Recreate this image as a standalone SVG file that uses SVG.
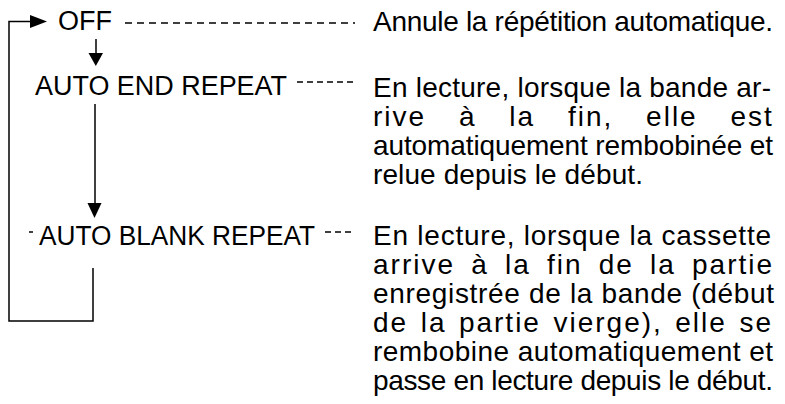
<svg xmlns="http://www.w3.org/2000/svg" width="785" height="404" viewBox="0 0 785 404">
<style>
text{font-family:"Liberation Sans",Arial,sans-serif;fill:#000}
.lbl{font-size:27px}
.d{font-size:28px}
.ln{fill:none;stroke:#000;stroke-width:1.5}
.dash{fill:none;stroke:#000;stroke-width:1.3;stroke-dasharray:7 5}
.ah{fill:#000}
</style>
<rect width="785" height="404" fill="#fff"/>
<g id="connectors">
<polyline class="ln" points="93,268 93,321 9,321 9,21.5 31,21.5"/>
<polygon class="ah" points="30,15 47,21.5 30,28"/>
<line class="ln" x1="96" y1="39" x2="96" y2="54"/>
<polygon class="ah" points="88.5,53 103,53 95.8,66"/>
<line class="ln" x1="95" y1="104" x2="95" y2="204"/>
<polygon class="ah" points="87.5,203 101.5,203 94.5,218"/>
<line class="ln" x1="29" y1="232" x2="33" y2="232"/>
<line class="dash" x1="125" y1="23" x2="355" y2="23"/>
<line class="dash" x1="297" y1="82" x2="355" y2="82" style="stroke-dasharray:6 4"/>
<line class="dash" x1="325" y1="232" x2="355" y2="232" style="stroke-dasharray:6 4"/>
</g>
<g id="node-off">
<text class="lbl" x="58" y="30">OFF</text>
<text class="d" x="373" y="31" textLength="400" lengthAdjust="spacing">Annule la répétition automatique.</text>
</g>
<g id="node-auto-end">
<text class="lbl" x="35" y="95" textLength="252" lengthAdjust="spacingAndGlyphs">AUTO END REPEAT</text>
<text class="d" x="373" y="97" textLength="398" lengthAdjust="spacing">En lecture, lorsque la bande ar-</text>
<text class="d" y="126" letter-spacing="2"><tspan x="373">rive</tspan><tspan x="458.9">à</tspan><tspan x="509.3">la</tspan><tspan x="567.9">fin,</tspan><tspan x="646.1">elle</tspan><tspan x="730.5">est</tspan></text>
<text class="d" x="373" y="155" textLength="400" lengthAdjust="spacing">automatiquement rembobinée et</text>
<text class="d" x="373" y="184" textLength="270" lengthAdjust="spacing">relue depuis le début.</text>
</g>
<g id="node-auto-blank">
<text class="lbl" x="39" y="245" textLength="276" lengthAdjust="spacingAndGlyphs">AUTO BLANK REPEAT</text>
<text class="d" x="373" y="245" textLength="398" lengthAdjust="spacing">En lecture, lorsque la cassette</text>
<text class="d" y="274" letter-spacing="2"><tspan x="373">arrive</tspan><tspan x="471.2">à</tspan><tspan x="505">la</tspan><tspan x="547">fin</tspan><tspan x="598.7">de</tspan><tspan x="650">la</tspan><tspan x="692">partie</tspan></text>
<text class="d" x="373" y="303" textLength="401" lengthAdjust="spacing">enregistrée de la bande (début</text>
<text class="d" y="332" letter-spacing="2"><tspan x="373">de</tspan><tspan x="420.7">la</tspan><tspan x="458.9">partie</tspan><tspan x="553.5">vierge),</tspan><tspan x="675.3">elle</tspan><tspan x="739.4">se</tspan></text>
<text class="d" x="373" y="361" textLength="400" lengthAdjust="spacing">rembobine automatiquement et</text>
<text class="d" x="373" y="390" textLength="400" lengthAdjust="spacing">passe en lecture depuis le début.</text>
</g>
</svg>
